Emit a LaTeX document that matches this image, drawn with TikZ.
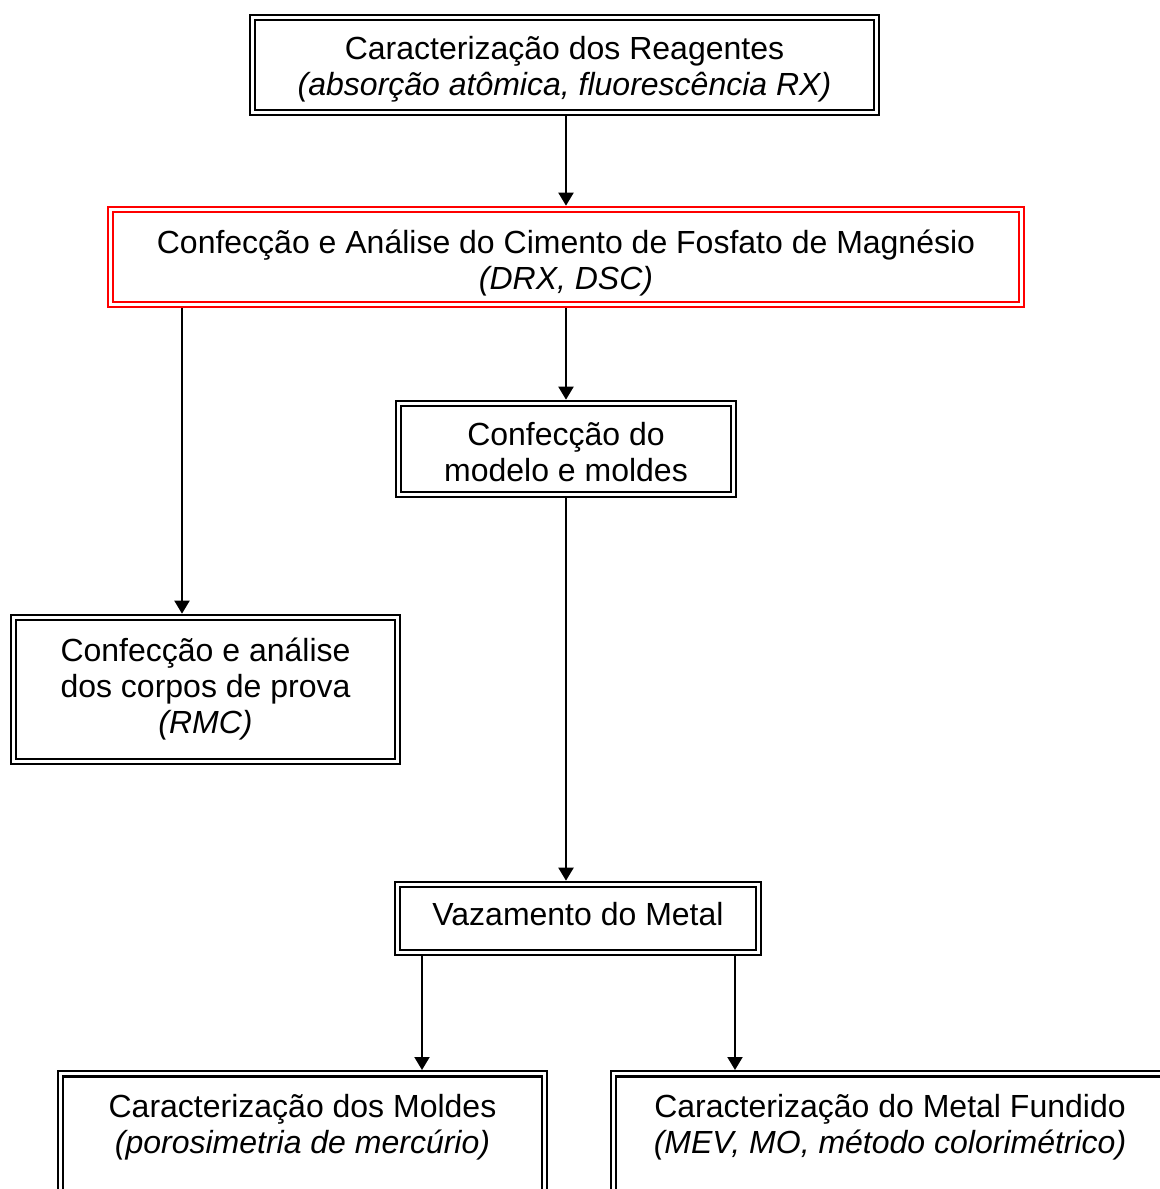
\documentclass[tikz,border=0pt]{standalone}
\usepackage{fontspec}
\setmainfont{Liberation Sans}
\usetikzlibrary{arrows.meta}
\newlength{\lw}
\setlength{\lw}{1.2pt}
\tikzstyle{every picture}+=[x=0.5pt,y=-0.5pt]
\tikzstyle{every picture}+=[>={Triangle[length=6.5pt,width=7.5pt]}]
\tikzstyle{every picture}+=[font=\fontsize{16pt}{18pt}\selectfont]
\tikzstyle{box}=[draw, double, line width=\lw, double distance=1.4pt]
\tikzstyle{box}+=[inner sep=0pt, outer sep=1.9pt, align=center]
\tikzstyle{redbox}=[box, draw=red]
\tikzstyle{arr}=[->, line width=1pt]

\begin{document}
\begin{tikzpicture}
\clip (0,0) rectangle (1160,1189);
\fill[white] (0,0) rectangle (1160,1189);

\node[box, minimum width=312pt, minimum height=47.5pt, text height=33.7pt] (reag) at (564.5,65)
  {Caracterização dos Reagentes\\\textit{(absorção atômica, fluorescência RX)}};
\node[redbox, minimum width=455.5pt, minimum height=47.5pt, text height=35.5pt] (cimento) at (566,257)
  {Confecção e Análise do Cimento de Fosfato de Magnésio\\\textit{(DRX, DSC)}};
\node[box, minimum width=167.5pt, minimum height=45.5pt, text height=32.7pt] (modelo) at (566,449)
  {Confecção do\\modelo e moldes};
\node[box, minimum width=192pt, minimum height=72pt] (corpos) at (205.5,689.5)
  {Confecção e análise\\dos corpos de prova\\\textit{(RMC)}};
\node[box, minimum width=180.5pt, minimum height=34pt, text depth=5pt] (vaz) at (578,918.5)
  {Vazamento do Metal};
\node[box, minimum width=242pt, inner ysep=10pt, text depth=80pt, anchor=north] (moldes) at (302.5,1070)
  {Caracterização dos Moldes\\\textit{(porosimetria de mercúrio)}};
\node[box, minimum width=276.5pt, inner ysep=10pt, text depth=80pt, anchor=north] (metal) at (890,1070)
  {Caracterização do Metal Fundido\\\textit{(MEV, MO, método colorimétrico)}};

\coordinate (xc) at (566,0);
\coordinate (xl) at (182,0);
\coordinate (xm) at (422,0);
\coordinate (xr) at (735,0);

\path[arr]
   (reag.south -| xc) edge (cimento.north -| xc)
   (cimento.south -| xc) edge (modelo.north -| xc)
   (cimento.south -| xl) edge (corpos.north -| xl)
   (modelo.south -| xc) edge (vaz.north -| xc)
   (vaz.south -| xm) edge (moldes.north -| xm)
   (vaz.south -| xr) edge (metal.north -| xr)
;
\end{tikzpicture}
\end{document}
